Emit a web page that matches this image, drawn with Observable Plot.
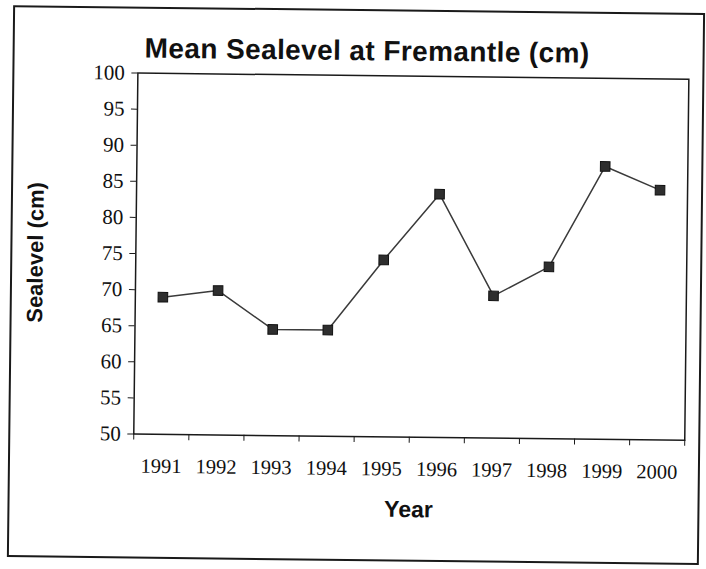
<!DOCTYPE html>
<html>
<head>
<meta charset="utf-8">
<script src="https://cdn.jsdelivr.net/npm/d3@7"></script>
<script src="https://cdn.jsdelivr.net/npm/@observablehq/plot@0.6"></script>
<style>
  html, body { margin: 0; padding: 0; background: #fff; }
  #wrap { position: relative; width: 706px; height: 569px; overflow: hidden; background: #fff; }
  #inner { position: absolute; left: 0; top: 0; width: 706px; height: 569px; transform: rotate(0.65deg); transform-origin: 353px 284px; }
  #border { position: absolute; left: 10px; top: 9px; width: 692px; height: 552px; border: 2px solid #1a1a1a; box-sizing: border-box; }
  #title { position: absolute; left: 142px; top: 35px; font-family: "Liberation Sans", Arial, sans-serif; font-weight: bold; font-size: 28px; line-height: 1.15; color: #111; white-space: nowrap; letter-spacing: 0.4px; }
  #chart { position: absolute; left: 0; top: 0; }
</style>
</head>
<body>
<div id="wrap"><div id="inner">
  <div id="border"></div>
  <div id="chart"></div>
  <div id="title">Mean Sealevel at Fremantle (cm)</div>
</div></div>
<script>
const years = [1991, 1992, 1993, 1994, 1995, 1996, 1997, 1998, 1999, 2000];
const sealevel = [69.0, 70.0, 64.7, 64.7, 74.5, 83.7, 69.7, 73.8, 87.8, 84.6];
const yTicks = [50, 55, 60, 65, 70, 75, 80, 85, 90, 95, 100];
const xLabel = "Year";
const yLabel = "Sealevel (cm)";

const data = years.map((y, i) => ({year: y, value: sealevel[i]}));
const boundaries = years.map(y => y - 0.5).concat([years[years.length - 1] + 0.5]);
const serif = "'Liberation Serif', 'Times New Roman', serif";
const sans = "'Liberation Sans', Arial, sans-serif";

const chart = Plot.plot({
  width: 706,
  height: 569,
  marginLeft: 135,
  marginRight: 20,
  marginTop: 75,
  marginBottom: 133,
  style: {fontFamily: serif, fontSize: "20px", color: "#111", background: "transparent", overflow: "visible"},
  x: {domain: [boundaries[0], boundaries[boundaries.length - 1]]},
  y: {domain: [50, 100]},
  marks: [
    Plot.frame({stroke: "#1a1a1a", strokeWidth: 1.5}),
    Plot.axisY({ticks: yTicks, tickSize: 6, tickPadding: 7, label: null, stroke: "#1a1a1a", fontSize: 21, fontFamily: serif, fill: "#111"}),
    Plot.axisX({ticks: boundaries, tickSize: 6, tickFormat: () => "", label: null, stroke: "#1a1a1a"}),
    Plot.axisX({ticks: years, tickSize: 0, tickPadding: 24, tickFormat: d => String(d), label: null, fontSize: 20.5, fontFamily: serif, fill: "#111"}),
    Plot.line(data, {x: "year", y: "value", stroke: "#3a3a3a", strokeWidth: 1.5}),
    Plot.dot(data, {x: "year", y: "value", symbol: "square", r: 5.4, fill: "#2e2e2e", stroke: "#111", strokeWidth: 1}),
    Plot.text([xLabel], {frameAnchor: "bottom", dy: 80, text: d => d, fontFamily: sans, fontWeight: "bold", fontSize: 23, fill: "#111"}),
    Plot.text([yLabel], {frameAnchor: "left", textAnchor: "middle", dx: -100, rotate: -90, text: d => d, fontFamily: sans, fontWeight: "bold", fontSize: 22, fill: "#111"})
  ]
});
document.getElementById("chart").appendChild(chart);
</script>
</body>
</html>
